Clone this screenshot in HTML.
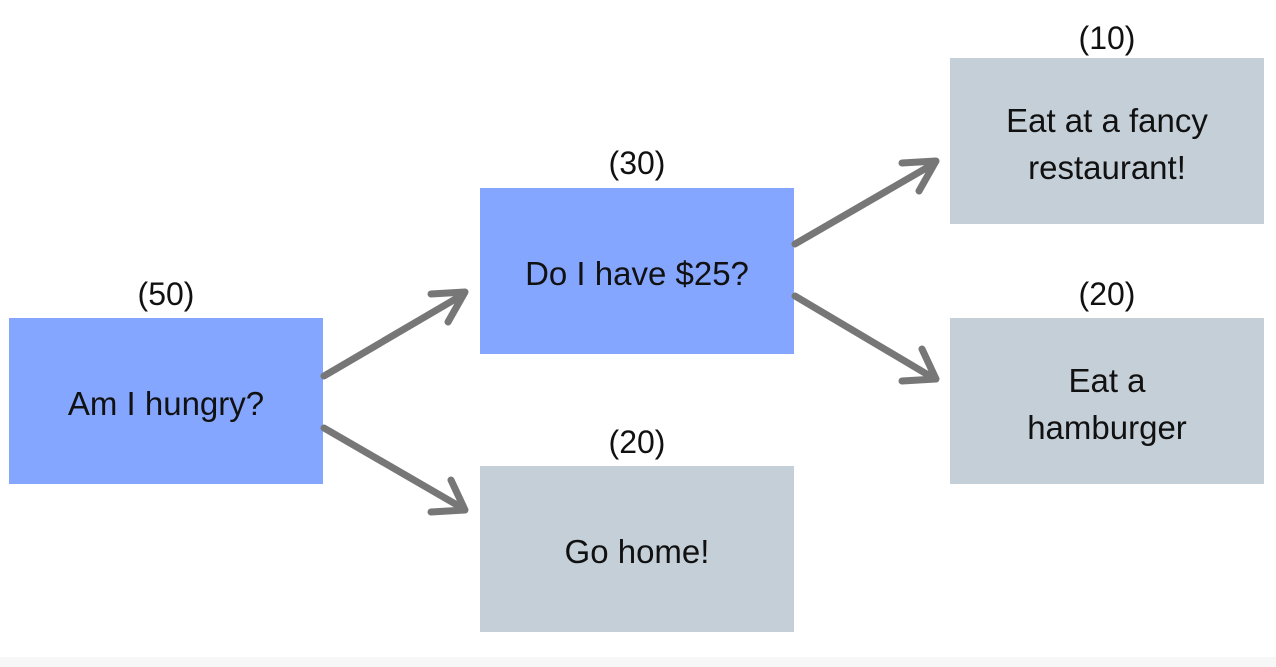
<!DOCTYPE html>
<html><head><style>
body{margin:0;width:1276px;height:667px;background:#fff;position:relative;overflow:hidden;font-family:"Liberation Sans",sans-serif;color:#111}
.b{position:absolute;width:314px;height:166px;display:flex;align-items:center;justify-content:center;text-align:center;font-size:33px;line-height:47px;box-sizing:border-box;padding-top:5px}
.blue{background:#85a6fe}.gray{background:#c5cfd8}
.l{position:absolute;width:314px;text-align:center;font-size:32px}
</style></head><body>
<div style="position:absolute;left:0;top:657px;width:1276px;height:10px;background:#f7f7f7"></div>
<div class="l" style="left:9px;top:276px">(50)</div>
<div class="l" style="left:480px;top:145px">(30)</div>
<div class="l" style="left:480px;top:424px">(20)</div>
<div class="l" style="left:950px;top:20px">(10)</div>
<div class="l" style="left:950px;top:276px">(20)</div>
<div class="b blue" style="left:9px;top:318px">Am I hungry?</div>
<div class="b blue" style="left:480px;top:188px">Do I have $25?</div>
<div class="b gray" style="left:480px;top:466px">Go home!</div>
<div class="b gray" style="left:950px;top:58px">Eat at a fancy<br>restaurant!</div>
<div class="b gray" style="left:950px;top:318px">Eat a<br>hamburger</div>
<svg width="1276" height="667" style="position:absolute;left:0;top:0" fill="none" stroke="#777" stroke-width="7" stroke-linecap="round" stroke-linejoin="round">
<path d="M324 376L464 294M431 294L465 292L448 322"/>
<path d="M324 428L464 509M431 512L465 510L451 480"/>
<path d="M795 244L935 163M902 163L936 161L919 191"/>
<path d="M795 296L935 379M902 381L936 379L922 349"/>
</svg>
</body></html>
